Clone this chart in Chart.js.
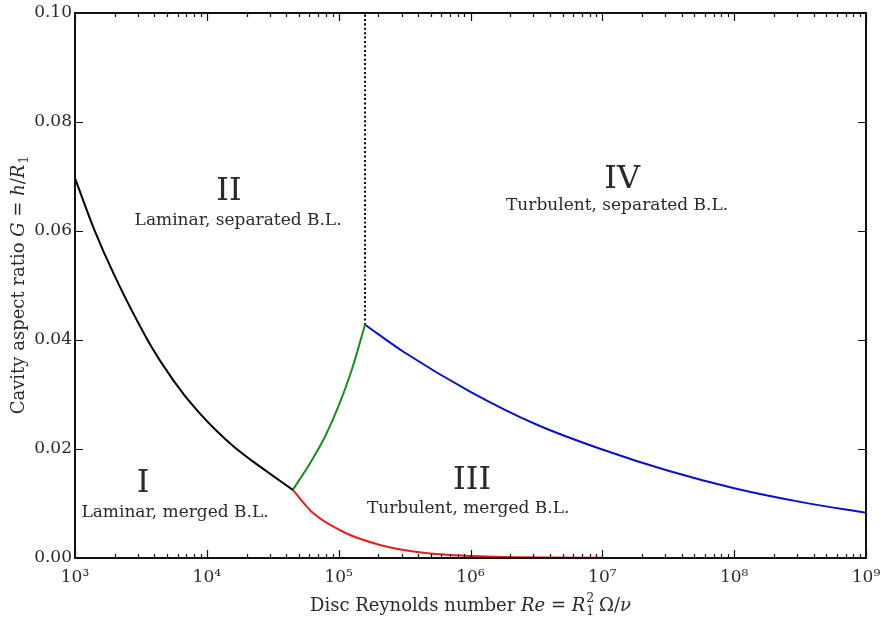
<!DOCTYPE html>
<html>
<head>
<meta charset="utf-8">
<script src="https://cdn.jsdelivr.net/npm/chart.js@4.4.1/dist/chart.umd.min.js"></script>
<style>
  body { margin: 0; background: #fff; }
  #wrap { width: 882px; height: 626px; }
</style>
</head>
<body>
<div id="wrap"><canvas id="regime-chart" width="882" height="626"></canvas></div>
<script>
// values
const blackRe = [1000, 1387, 1995, 3516, 4677, 6637, 8872, 11890, 15890, 21280, 28440, 44870];
const blackG = [0.0697, 0.0605, 0.0518, 0.0402, 0.0353, 0.0301, 0.0265, 0.0233, 0.0205, 0.0181, 0.0159, 0.0125];

const greenRe = [44870, 60670, 78890, 99540, 125600, 158500];
const greenG = [0.0125, 0.0174, 0.0223, 0.0278, 0.0345, 0.0428];

const redRe = [44870, 64270, 115100, 206100, 369000, 660700, 1183000, 2118000, 3981000, 10000000];
const redG = [0.0125, 0.0082, 0.0045, 0.0024, 0.0012, 0.0006, 0.0003, 0.00015, 0.00008, 0.00003];

const blueRe = [158500, 316200, 1000000, 3162000, 10000000, 31620000, 100000000, 316200000, 1000000000];
const blueG = [0.0428, 0.0377, 0.0305, 0.0245, 0.0199, 0.0160, 0.0128, 0.0103, 0.0083];

const dividerRe = [158500, 158500];
const dividerG = [0.0428, 0.10];

const xTickPowers = [3, 4, 5, 6, 7, 8, 9];
const yTicks = [0, 0.02, 0.04, 0.06, 0.08, 0.10];

// annotation text, placed in data coordinates
const regionLabels = [
    { text: 'I', re: 3281, g: 0.0136, big: true },
    { text: 'Laminar, merged B.L.', re: 5740, g: 0.0084 },
    { text: 'II', re: 14720, g: 0.0672, big: true },
    { text: 'Laminar, separated B.L.', re: 17260, g: 0.0620 },
    { text: 'III', re: 1028000, g: 0.0141, big: true },
    { text: 'Turbulent, merged B.L.', re: 959000, g: 0.0090 },
    { text: 'IV', re: 14130000, g: 0.0694, big: true },
    { text: 'Turbulent, separated B.L.', re: 12940000, g: 0.0646 }
];

const SERIF = '"DejaVu Serif", "Liberation Serif", serif';
const INK = '#2a2a2a';

function pts(xs, ys) {
    return xs.map((x, i) => ({ x: x, y: ys[i] }));
}

const supDigits = { '0': '⁰', '1': '¹', '2': '²', '3': '³', '4': '⁴', '5': '⁵', '6': '⁶', '7': '⁷', '8': '⁸', '9': '⁹' };

// draw text runs with italic / sub / superscript pieces, centred on cx
function drawRich(ctx, parts, cx, cy, size) {
    const fontOf = (p, s) => (p.i ? 'italic ' : '') + s + 'px ' + SERIF;
    let total = 0;
    const widths = parts.map(p => {
        ctx.font = fontOf(p, size);
        let w = ctx.measureText(p.t).width;
        let extra = 0;
        ctx.font = (0.7 * size) + 'px ' + SERIF;
        if (p.sub) extra = Math.max(extra, ctx.measureText(p.sub).width);
        if (p.sup) extra = Math.max(extra, ctx.measureText(p.sup).width);
        total += w + extra;
        return [w, extra];
    });
    let x = cx - total / 2;
    ctx.textAlign = 'left';
    ctx.textBaseline = 'middle';
    parts.forEach((p, i) => {
        ctx.font = fontOf(p, size);
        ctx.fillText(p.t, x, cy);
        x += widths[i][0];
        ctx.font = (0.7 * size) + 'px ' + SERIF;
        if (p.sub) ctx.fillText(p.sub, x + 1, cy + 0.3 * size);
        if (p.sup) ctx.fillText(p.sup, x + 1, cy - 0.4 * size);
        x += widths[i][1];
    });
}

const framePlugin = {
    id: 'frame',
    afterDraw(chart) {
        const ctx = chart.ctx;
        const area = chart.chartArea;
        const xs = chart.scales.x;
        const ys = chart.scales.y;
        ctx.save();

        // inward tick marks on all four sides
        ctx.strokeStyle = '#111';
        ctx.lineWidth = 1.2;
        ctx.beginPath();
        for (let e = xTickPowers[0]; e <= xTickPowers[xTickPowers.length - 1]; e++) {
            for (let m = 1; m <= 9; m++) {
                const v = m * Math.pow(10, e);
                if (v > xs.max * 1.0001) break;
                const px = Math.round(xs.getPixelForValue(v)) + 0.5;
                const len = m === 1 ? 8 : 4;
                ctx.moveTo(px, area.bottom); ctx.lineTo(px, area.bottom - len);
                ctx.moveTo(px, area.top); ctx.lineTo(px, area.top + len);
            }
        }
        yTicks.forEach(v => {
            const py = Math.round(ys.getPixelForValue(v)) + 0.5;
            ctx.moveTo(area.left, py); ctx.lineTo(area.left + 8, py);
            ctx.moveTo(area.right, py); ctx.lineTo(area.right - 8, py);
        });
        ctx.stroke();

        // box
        ctx.lineWidth = 2;
        ctx.strokeStyle = '#111';
        ctx.strokeRect(area.left, area.top, area.right - area.left, area.bottom - area.top);

        // region labels
        ctx.fillStyle = INK;
        ctx.textAlign = 'center';
        ctx.textBaseline = 'middle';
        regionLabels.forEach(l => {
            ctx.font = (l.big ? '32px ' : '17px ') + SERIF;
            ctx.fillText(l.text, xs.getPixelForValue(l.re), ys.getPixelForValue(l.g));
        });

        // axis titles
        const midX = (area.left + area.right) / 2;
        drawRich(ctx, [
            { t: 'Disc Reynolds number ' },
            { t: 'Re', i: true },
            { t: ' = ' },
            { t: 'R', i: true, sub: '1', sup: '2' },
            { t: ' Ω/' },
            { t: 'ν', i: true }
        ], midX, 606, 18);

        ctx.translate(19, (area.top + area.bottom) / 2);
        ctx.rotate(-Math.PI / 2);
        drawRich(ctx, [
            { t: 'Cavity aspect ratio ' },
            { t: 'G', i: true },
            { t: ' = ' },
            { t: 'h', i: true },
            { t: '/' },
            { t: 'R', i: true, sub: '1' }
        ], 0, 0, 18);
        ctx.restore();
    }
};

const lineStyle = { showLine: true, pointRadius: 0, borderWidth: 2, fill: false, cubicInterpolationMode: 'monotone' };

const ctx = document.getElementById('regime-chart').getContext('2d');
const regimeChart = new Chart(ctx, {
    type: 'scatter',
    data: {
        datasets: [
            Object.assign({ label: 'laminar', data: pts(blackRe, blackG), borderColor: '#000000' }, lineStyle),
            Object.assign({ label: 'transition separated', data: pts(greenRe, greenG), borderColor: '#1f8a1f' }, lineStyle),
            Object.assign({ label: 'transition merged', data: pts(redRe, redG), borderColor: '#e0201c' }, lineStyle),
            Object.assign({ label: 'turbulent', data: pts(blueRe, blueG), borderColor: '#0c10c4' }, lineStyle),
            Object.assign({ label: 'divider', data: pts(dividerRe, dividerG), borderColor: '#000000', borderDash: [2, 2.4] }, lineStyle)
        ]
    },
    options: {
        responsive: false,
        animation: false,
        layout: { padding: { top: 13, right: 16, left: 0, bottom: 0 } },
        plugins: {
            legend: { display: false },
            tooltip: { enabled: false }
        },
        scales: {
            x: {
                type: 'logarithmic',
                min: 1e3,
                max: 1e9,
                grid: { display: false, drawTicks: false },
                border: { display: false },
                afterFit: s => {
                    s.height = 68;
                    s.paddingLeft = 0;
                    s.paddingRight = 0;
                },
                afterBuildTicks: s => {
                    s.ticks = xTickPowers.map(p => ({ value: Math.pow(10, p) }));
                },
                ticks: {
                    autoSkip: false,
                    maxRotation: 0,
                    padding: 9,
                    color: INK,
                    font: { family: SERIF, size: 17 },
                    callback: v => '10' + String(Math.round(Math.log10(v))).split('').map(d => supDigits[d]).join('')
                }
            },
            y: {
                min: 0,
                max: 0.10,
                grid: { display: false, drawTicks: false },
                border: { display: false },
                afterFit: s => {
                    s.width = 75;
                    s.paddingTop = 0;
                    s.paddingBottom = 0;
                },
                afterBuildTicks: s => {
                    s.ticks = yTicks.map(v => ({ value: v }));
                },
                ticks: {
                    padding: 3,
                    color: INK,
                    font: { family: SERIF, size: 17 },
                    callback: v => v.toFixed(2)
                }
            }
        }
    },
    plugins: [framePlugin]
});
</script>
</body>
</html>
